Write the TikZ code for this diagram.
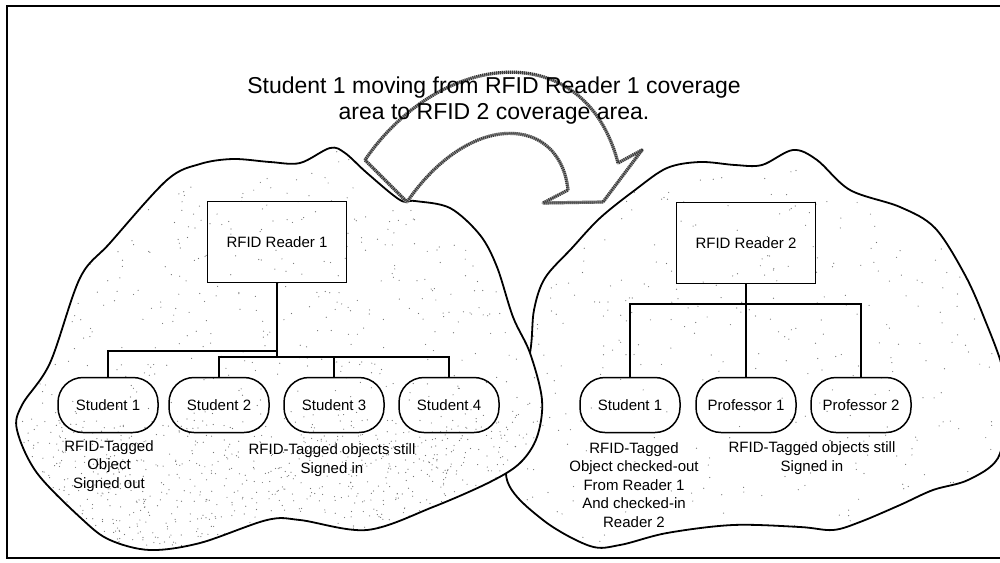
\documentclass[tikz,border=0pt]{standalone}
\usepackage{fontspec}
\setmainfont{Liberation Sans}
\begin{document}
\begin{tikzpicture}[x=1pt,y=-1pt,
  outline/.style={line width=1.8pt, line join=round},
  readerbox/.style={draw, line width=1.4pt, minimum width=139pt, minimum height=81pt, inner sep=0pt, font=\fontsize{15}{18}\selectfont},
  pill/.style={draw, line width=1.5pt, rounded corners=25pt, minimum width=100pt, minimum height=55pt, inner sep=0pt, font=\fontsize{15}{18}\selectfont},
  wire/.style={line width=1.4pt},
  note/.style={align=center, inner sep=0pt, font=\fontsize{15}{18.5}\selectfont},
  speck/.style={fill=black!55},
]
\useasboundingbox (0,0) rectangle (1000,562);
\pgfmathsetseed{42}

% outer frame
\draw[line width=1.5pt] (7,6) rectangle (1010,558);

% coverage areas
\def\rightcloud{plot[smooth cycle, tension=0.55] coordinates {
  (530,353) (534,310) (545,278) (572,248) (600,218) (635,190) (667,168)
  (700,162) (735,165) (762,165) (793,150) (817,160) (850,190) (900,207)
  (935,228) (965,275) (985,320) (1003,370) (1006,412) (998,458) (968,480)
  (933,490) (900,505) (860,522) (833,530) (800,527) (733,525) (667,533)
  (620,545) (590,546) (543,520) (507,480) (515,420)}}
\def\leftcloud{plot[smooth cycle, tension=0.55] coordinates {
  (17,430) (22,405) (50,363) (80,278) (110,243) (167,180) (200,164)
  (233,159) (270,162) (300,163) (330,148) (345,153) (367,173) (400,200)
  (415,201) (450,208) (480,235) (497,267) (513,317) (530,353) (542,400)
  (537,437) (520,463) (490,482) (433,507) (367,530) (300,520) (267,520)
  (200,543) (150,550) (110,540) (83,520) (37,473)}}

\begin{scope}
  \clip \rightcloud;
  \fill[white] (480,100) rectangle (1010,562);
  \foreach \i in {1,...,450}{
    \pgfmathsetmacro\px{500+505*rnd}
    \pgfmathsetmacro\py{145+410*rnd}
    \fill[speck] (\px,\py) circle[radius=0.6];
  }
\end{scope}
\draw[outline] \rightcloud;

\begin{scope}
  \clip \leftcloud;
  \fill[white] (0,100) rectangle (560,562);
  \foreach \i in {1,...,800}{
    \pgfmathsetmacro\px{15+530*rnd}
    \pgfmathsetmacro\py{145+410*rnd}
    \fill[speck] (\px,\py) circle[radius=0.6];
  }
  \foreach \i in {1,...,800}{
    \pgfmathsetmacro\px{15+530*rnd}
    \pgfmathsetmacro\py{420+135*rnd}
    \fill[speck] (\px,\py) circle[radius=0.6];
  }
\end{scope}
\draw[outline] \leftcloud;

% curved block arrow between the two areas, with a grainy rim
\def\bendarrow{(365,160) .. controls (440,50) and (585,35) .. (618,163)
  -- (642,150) -- (603,202) -- (543,203) -- (568,190)
  .. controls (560,115) and (470,110) .. (407,202) -- cycle}
\draw[line width=3.2pt, draw=black!35, fill=white, line join=round] \bendarrow;
\draw[line width=3.2pt, draw=black!80, line join=round, dash pattern=on 0.9pt off 1.1pt] \bendarrow;
\draw[line width=0.5pt, draw=black!70, line join=round] \bendarrow;

\node[font=\fontsize{23}{26}\selectfont, align=center] (title) at (494,101)
  {Student 1 moving from RFID Reader 1 coverage\\area to RFID 2 coverage area.};

% reader 1 and its tags
\node[readerbox] (r1) at (277,242) {RFID Reader 1};
\node[pill] (s1) at (108,405) {Student 1};
\node[pill] (s2) at (219,405) {Student 2};
\node[pill] (s3) at (334,405) {Student 3};
\node[pill] (s4) at (449,405) {Student 4};
\coordinate (a1) at (277,351);
\coordinate (b1) at (277,357);
\draw[wire] (r1.south) -- (b1);
\draw[wire] (a1) -- (s1.north |- a1) -- (s1.north);
\draw[wire] (s2.north) -- (s2.north |- b1) -- (s4.north |- b1) -- (s4.north);
\draw[wire] (s3.north |- b1) -- (s3.north);

\node[note] (n1) at (109,466) {RFID-Tagged\\Object\\Signed out};
\node[note] (n2) at (332,460) {RFID-Tagged objects still\\Signed in};

% reader 2 and its tags
\node[readerbox] (r2) at (746,243) {RFID Reader 2};
\node[pill] (t1) at (630,405) {Student 1};
\node[pill] (p1) at (746,405) {Professor 1};
\node[pill] (p2) at (861,405) {Professor 2};
\coordinate (c2) at (746,304);
\draw[wire] (r2.south) -- (p1.north);
\draw[wire] (t1.north) -- (t1.north |- c2) -- (p2.north |- c2) -- (p2.north);

\node[note] (n3) at (634,485) {RFID-Tagged\\Object checked-out\\From Reader 1\\And checked-in\\Reader 2};
\node[note] (n4) at (812,458) {RFID-Tagged objects still\\Signed in};
\end{tikzpicture}
\end{document}
